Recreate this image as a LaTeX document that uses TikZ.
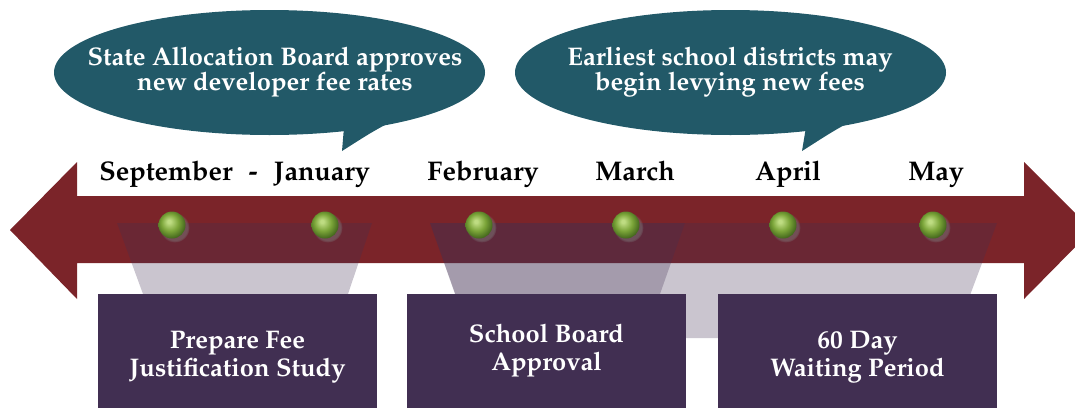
\documentclass[tikz,border=0pt]{standalone}
\usepackage[T1]{fontenc}
\usepackage{mathpazo}
\usetikzlibrary{shapes.geometric,shadows}
\definecolor{shaftred}{RGB}{123,36,41}
\definecolor{bubbleteal}{RGB}{34,89,104}
\definecolor{boxpurple}{RGB}{65,47,82}
\definecolor{pealight}{RGB}{190,220,130}
\definecolor{peamid}{RGB}{122,164,56}
\definecolor{peadark}{RGB}{62,96,26}
\pgfdeclareradialshading{peashade}{\pgfpoint{-6bp}{7bp}}{color(0bp)=(pealight); color(3bp)=(pealight); color(16bp)=(peamid); color(29bp)=(peadark); color(50bp)=(peadark)}
\tikzset{veil/.style={fill=boxpurple,fill opacity=0.28}}
\tikzset{
  stagebox/.style={
    rectangle,
    fill=boxpurple,
    text=white,
    align=center,
    inner sep=0,
    minimum width=279,
    minimum height=126,
    font=\fontsize{25.5}{28}\selectfont\bfseries
  }
}
\tikzset{
  bubble/.style={
    ellipse,
    fill=bubbleteal,
    inner sep=0,
    minimum width=431,
    minimum height=125
  }
}
\tikzset{bubbletext/.style={text=white,align=center,font=\fontsize{25.5}{25.5}\selectfont\bfseries}}
\tikzset{month/.style={anchor=base,font=\fontsize{27}{30}\selectfont\bfseries}}
\tikzset{
  pea/.style={
    circle,
    shading=peashade,
    inner sep=0,
    minimum size=27,
    circular drop shadow={shadow xshift=2.5pt,shadow yshift=-2.5pt,opacity=0.45}
  }
}

\begin{document}
\begin{tikzpicture}[x=1pt,y=-1pt]

\useasboundingbox (0,0) rectangle (1075,407);
\clip (0,0) rectangle (1075,407);

% double arrow
\fill[shaftred] (10,230) -- (77,162) -- (77,196) -- (1024,196) -- (1024,162)
  -- (1092,230) -- (1024,299) -- (1024,263) -- (77,263) -- (77,299) -- cycle;

% shaded spans
\fill[veil] (117,223) -- (372,223) -- (348,294) -- (143,294) -- cycle;
\fill[veil] (430,223) -- (685,223) -- (660,294) -- (455,294) -- cycle;
\fill[veil] (430,223) -- (997,223) -- (954,338) -- (471,338) -- cycle;

\foreach \px [count=\i] in {172,325,479,626,783,933}
  \node[pea] (pea\i) at (\px,225) {};

\node[stagebox] (prep) at (237.5,357) {Prepare Fee\\Justification Study};
\node[stagebox,minimum height=114] (board) at (546.5,351) {School Board\\Approval};
\node[stagebox] (wait) at (857.5,357) {60 Day\\Waiting Period};

% callouts
\node[bubble] (sab) at (269.5,72.5) {};
\fill[bubbleteal] (344,127) -- (342,151) .. controls (358,141) and (374,130) .. (393,121) -- cycle;
\node[bubbletext] (sabtext) at (275,72) {State Allocation Board approves\\new developer fee rates};

\node[bubble] (levy) at (730.5,72.5) {};
\fill[bubbleteal] (806,127) -- (802,151) .. controls (818,141) and (834,130) .. (852,121) -- cycle;
\node[bubbletext] (levytext) at (730,72) {Earliest school districts may\\begin levying new fees};

\node[month] (sep) at (166,180) {September};
\node[month] (dash) at (253,180) {-};
\node[month] (jan) at (322,180) {January};
\node[month] (feb) at (483,180) {February};
\node[month] (mar) at (635,180) {March};
\node[month] (apr) at (788,180) {April};
\node[month] (may) at (936,180) {May};

\end{tikzpicture}
\end{document}
